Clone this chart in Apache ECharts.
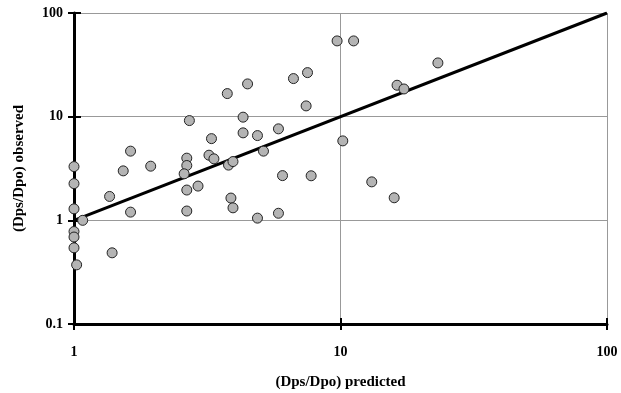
<!DOCTYPE html>
<html>
<head>
<meta charset="utf-8">
<script src="https://cdn.jsdelivr.net/npm/echarts@6/dist/echarts.min.js"></script>
<style>
  html, body { margin: 0; padding: 0; background: #fff; }
  #chart { width: 621px; height: 393px; }
</style>
</head>
<body>
<div id="chart"></div>
<script>
// predicted vs observed
const predicted = [
  4.48, 3.76, 2.71, 4.31, 3.28, 4.31, 4.88, 5.85, 1.0, 1.0,
  1.0, 1.078, 1.0, 1.0, 1.0, 1.023, 1.39, 1.36, 1.63, 1.53,
  1.63, 1.94, 2.65, 2.65, 2.59, 2.65, 2.65, 2.92, 3.21, 3.35,
  3.80, 3.95, 3.88, 3.95, 4.88, 5.14, 5.85, 6.06, 9.71, 11.2,
  23.2, 16.3, 17.3, 7.52, 6.66, 7.43, 10.2, 7.76, 13.1, 15.9
];
const observed = [
  20.7, 16.7, 9.17, 9.89, 6.14, 6.98, 6.57, 7.63, 3.30, 2.26,
  1.29, 1.0, 0.78, 0.69, 0.543, 0.372, 0.486, 1.70, 4.65, 3.00,
  1.20, 3.33, 3.98, 3.38, 2.81, 1.96, 1.23, 2.14, 4.25, 3.92,
  3.41, 3.69, 1.64, 1.32, 1.05, 4.65, 1.17, 2.70, 53.8, 53.8,
  33.0, 20.1, 18.5, 26.6, 23.3, 12.7, 5.84, 2.69, 2.35, 1.65
];
const lineX = [1, 100];
const lineY = [1, 100];

const chart = echarts.init(document.getElementById("chart"));

const font = "'Liberation Serif', 'Times New Roman', serif";
const labelStyle = { fontFamily: font, fontWeight: "bold", fontSize: 14, color: "#000" };

const option = {
  animation: false,
  grid: { left: 74, right: 14, top: 13, bottom: 69, outerBoundsMode: "none", containLabel: false },
  xAxis: [
    {
      type: "log", logBase: 10, min: 1, max: 100,
      name: "(Dps/Dpo) predicted", nameLocation: "middle", nameGap: 51,
      nameTextStyle: { fontFamily: font, fontWeight: "bold", fontSize: 15, color: "#000" },
      axisLine: { lineStyle: { color: "#000", width: 3 } },
      axisTick: { length: 6, lineStyle: { color: "#000", width: 2 } },
      axisLabel: Object.assign({ margin: 21 }, labelStyle),
      splitLine: { show: true, lineStyle: { color: "#999", width: 1 } },
      minorTick: { show: false }
    },
    {
      // inside half of the crossing ticks
      type: "log", logBase: 10, min: 1, max: 100, position: "bottom",
      axisLine: { show: false },
      axisTick: { inside: true, length: 6, lineStyle: { color: "#000", width: 2 } },
      axisLabel: { show: false },
      splitLine: { show: false }
    }
  ],
  yAxis: [
    {
      type: "log", logBase: 10, min: 0.1, max: 100,
      name: "(Dps/Dpo) observed", nameLocation: "middle", nameGap: 47,
      nameTextStyle: { fontFamily: font, fontWeight: "bold", fontSize: 15, color: "#000" },
      axisLine: { show: true, lineStyle: { color: "#000", width: 3 } },
      axisTick: { show: true, length: 6, lineStyle: { color: "#000", width: 2 } },
      axisLabel: Object.assign({ margin: 11 }, labelStyle),
      splitLine: { show: true, lineStyle: { color: "#999", width: 1 } }
    },
    {
      type: "log", logBase: 10, min: 0.1, max: 100, position: "left",
      axisLine: { show: false },
      axisTick: { show: true, inside: true, length: 7, lineStyle: { color: "#000", width: 2 } },
      axisLabel: { show: false },
      splitLine: { show: false }
    }
  ],
  series: [
    {
      type: "line",
      data: lineX.map((x, i) => [x, lineY[i]]),
      showSymbol: false,
      symbol: "none",
      lineStyle: { color: "#000", width: 3 },
      z: 3
    },
    {
      type: "scatter",
      data: predicted.map((x, i) => [x, observed[i]]),
      symbol: "circle",
      symbolSize: 10,
      itemStyle: { color: "#b4b4b4", borderColor: "#222", borderWidth: 1, opacity: 1 },
      z: 4
    }
  ]
};

chart.setOption(option);

window.addEventListener("resize", () => {
  chart.resize();
});
</script>
</body>
</html>
